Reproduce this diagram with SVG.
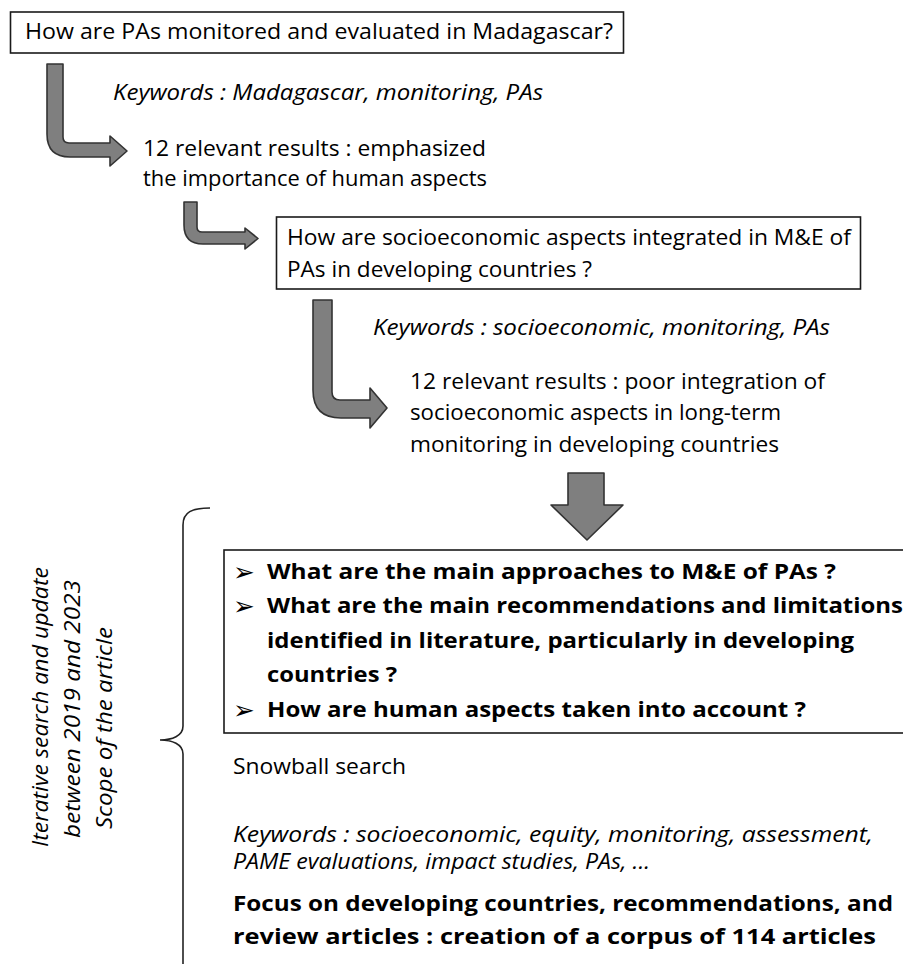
<svg xmlns="http://www.w3.org/2000/svg" width="903" height="964" viewBox="0 0 903 964">
<style>
.t{font-family:"Open Sans","Liberation Sans",sans-serif;font-size:21px;fill:#000}
.i{font-style:italic}
.b{font-weight:bold;font-size:21px}
.box{fill:#fff;stroke:#1a1a1a;stroke-width:1.6}
.arr{fill:#7f7f7f;stroke:#333;stroke-width:1.6;stroke-linejoin:round}
.bul{font-family:"DejaVu Sans",sans-serif;font-size:26px;fill:#000}
.brace{fill:none;stroke:#222;stroke-width:1.6}
</style>
<rect width="903" height="964" fill="#fff"/>
<g id="connectors">
<path class="arr" d="M47,64 L63,64 L63,137 Q63,143 69,143 L110,143 L110,136 L127,151 L110,166 L110,157 L70,157 Q47,157 47,134 Z"/>
<path class="arr" d="M184,202 L197,202 L197,227 Q197,232 202,232 L245,232 L245,228 L258,238.5 L245,249 L245,244 L203,244 Q184,244 184,225 Z"/>
<path class="arr" d="M313,300 L332,300 L332,392 Q332,400 340,400 L370,400 L370,388 L387,408 L370,428 L370,418 L341,418 Q313,418 313,390 Z"/>
<path class="arr" d="M568,473 L604,473 L604,505 L623,505 L587,540 L551,505 L568,505 Z"/>
<path class="brace" d="M210,508 C192,508 183,512 183,525 L183,726 C183,736 172,740 160,740 C172,740 183,744 183,754 L183,970"/>
</g>
<g id="q1">
<rect class="box" x="10.5" y="12" width="613" height="41"/>
<text class="t" x="25" y="39" textLength="588" lengthAdjust="spacingAndGlyphs">How are PAs monitored and evaluated in Madagascar?</text>
</g>
<g id="kw1">
<text class="t i" x="113" y="100" textLength="430" lengthAdjust="spacingAndGlyphs">Keywords : Madagascar, monitoring, PAs</text>
</g>
<g id="r1">
<text class="t" x="143" y="156" textLength="343" lengthAdjust="spacingAndGlyphs">12 relevant results : emphasized</text>
<text class="t" x="143" y="186" textLength="344" lengthAdjust="spacingAndGlyphs">the importance of human aspects</text>
</g>
<g id="q2">
<rect class="box" x="276.5" y="217" width="584" height="72"/>
<text class="t" x="287" y="245" textLength="564" lengthAdjust="spacingAndGlyphs">How are socioeconomic aspects integrated in M&amp;E of</text>
<text class="t" x="287" y="277" textLength="305" lengthAdjust="spacingAndGlyphs">PAs in developing countries ?</text>
</g>
<g id="kw2">
<text class="t i" x="373" y="335" textLength="457" lengthAdjust="spacingAndGlyphs">Keywords : socioeconomic, monitoring, PAs</text>
</g>
<g id="r2">
<text class="t" x="410" y="389" textLength="415" lengthAdjust="spacingAndGlyphs">12 relevant results : poor integration of</text>
<text class="t" x="410" y="420" textLength="371" lengthAdjust="spacingAndGlyphs">socioeconomic aspects in long-term</text>
<text class="t" x="410" y="452" textLength="369" lengthAdjust="spacingAndGlyphs">monitoring  in developing countries</text>
</g>
<g id="q3">
<rect class="box" x="224" y="550" width="700" height="183"/>
<text class="bul" x="233" y="581">➢</text>
<text class="bul" x="233" y="615">➢</text>
<text class="bul" x="233" y="719">➢</text>
<text class="t b" x="267" y="579" textLength="569" lengthAdjust="spacingAndGlyphs">What are the main approaches to M&amp;E of PAs ?</text>
<text class="t b" x="267" y="613" textLength="636" lengthAdjust="spacingAndGlyphs">What are the main recommendations and limitations</text>
<text class="t b" x="267" y="648" textLength="587" lengthAdjust="spacingAndGlyphs">identified in literature, particularly in developing</text>
<text class="t b" x="267" y="682" textLength="130" lengthAdjust="spacingAndGlyphs">countries ?</text>
<text class="t b" x="267" y="717" textLength="539" lengthAdjust="spacingAndGlyphs">How are human aspects taken into account ?</text>
</g>
<g id="snowball">
<text class="t" x="233" y="774" textLength="173" lengthAdjust="spacingAndGlyphs">Snowball search</text>
</g>
<g id="kw3">
<text class="t i" x="233" y="842" textLength="640" lengthAdjust="spacingAndGlyphs">Keywords : socioeconomic, equity,  monitoring, assessment,</text>
<text class="t i" x="233" y="869" textLength="417" lengthAdjust="spacingAndGlyphs">PAME evaluations, impact studies, PAs, ...</text>
</g>
<g id="focus">
<text class="t b" x="233" y="911" textLength="660" lengthAdjust="spacingAndGlyphs">Focus on developing countries, recommendations, and</text>
<text class="t b" x="233" y="944" textLength="643" lengthAdjust="spacingAndGlyphs">review articles : creation of a corpus of 114 articles</text>
</g>
<g id="scope">
<text class="t i" transform="translate(48,847) rotate(-90)" textLength="280" lengthAdjust="spacingAndGlyphs">Iterative search and update</text>
<text class="t i" transform="translate(80,838) rotate(-90)" textLength="258" lengthAdjust="spacingAndGlyphs">between 2019 and 2023</text>
<text class="t i" transform="translate(112,829) rotate(-90)" textLength="202" lengthAdjust="spacingAndGlyphs">Scope of the article</text>
</g>
</svg>
